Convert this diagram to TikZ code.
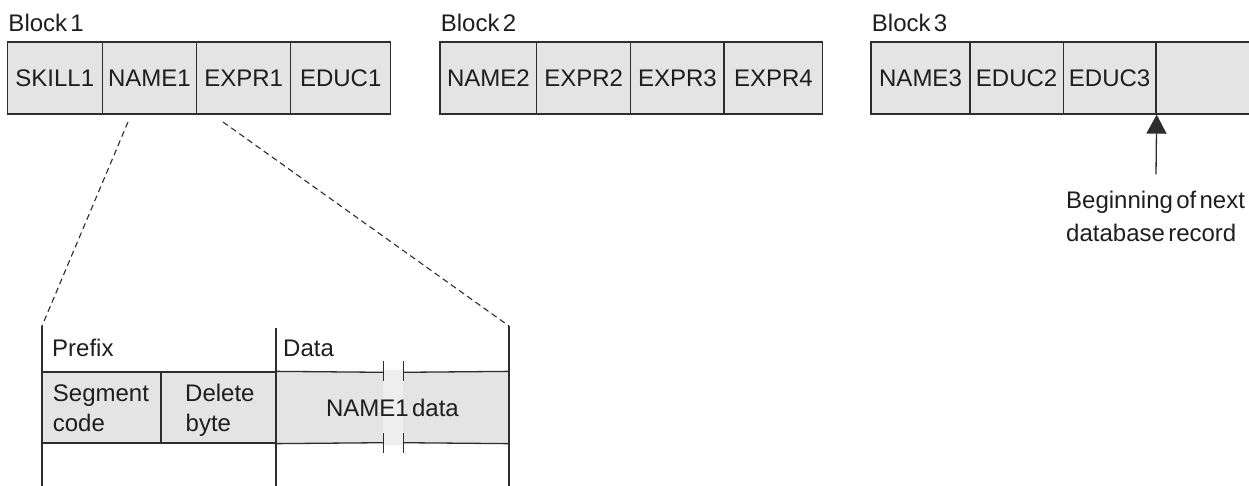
\documentclass[tikz,border=0pt]{standalone}
\usepackage{fontspec}
\setmainfont{Liberation Sans}[WordSpace=0.5]
\usetikzlibrary{arrows.meta}
\definecolor{cellfill}{RGB}{228,228,228}
\definecolor{gapfill}{RGB}{238,238,238}
\definecolor{linec}{RGB}{45,45,45}
\definecolor{textc}{RGB}{30,30,30}
\newcommand{\dfont}{\fontsize{24}{30}\selectfont}
\tikzset{
  cell/.style={draw=linec, fill=cellfill, line width=1.3pt, minimum height=72pt,
    inner sep=0pt, font=\dfont, text=textc},
  band/.style={draw=linec, fill=cellfill, line width=1.3pt, minimum height=71pt,
    inner sep=0pt},
  txt/.style={inner sep=0pt, font=\dfont, text=textc},
  rule/.style={draw=linec, line width=1.3pt},
  zoomline/.style={draw=linec, line width=1.1pt, dash pattern=on 6pt off 4pt},
}
\begin{document}
\begin{tikzpicture}[x=1pt,y=-1pt]
\useasboundingbox (0,0) rectangle (1249,485);

% block labels
\node[txt, anchor=base west] (b1) at (8.3,31.7) {Block 1};
\node[txt, anchor=base west] (b2) at (440.7,31.7) {Block 2};
\node[txt, anchor=base west] (b3) at (871.7,31.7) {Block 3};

% block 1
\node[cell, minimum width=95pt]   (c11) at (54.8,78) {SKILL1};
\node[cell, minimum width=94.4pt] (c12) at (149.5,78) {NAME1};
\node[cell, minimum width=94pt]   (c13) at (243.7,78) {EXPR1};
\node[cell, minimum width=100pt]  (c14) at (340.7,78) {EDUC1};
% block 2
\node[cell, minimum width=96.7pt] (c21) at (488.35,78) {NAME2};
\node[cell, minimum width=94pt]   (c22) at (583.7,78) {EXPR2};
\node[cell, minimum width=93.3pt] (c23) at (677.35,78) {EXPR3};
\node[cell, minimum width=98.7pt] (c24) at (773.35,78) {EXPR4};
% block 3
\node[cell, minimum width=99pt]   (c31) at (920.5,78) {NAME3};
\node[cell, minimum width=93.3pt] (c32) at (1016.65,78) {EDUC2};
\node[cell, minimum width=92.7pt] (c33) at (1109.65,78) {EDUC3};
\node[cell, minimum width=96pt]   (c34) at (1204,78) {};

% arrow to beginning of next record
\coordinate (atail) at (1156,174.3);
\draw[rule, -{Triangle[length=19pt,width=20pt]}] (atail) -- (c33.south east);
\node[txt, anchor=base west] (n1) at (1066,208.3) {Beginning of next};
\node[txt, anchor=base west] (n2) at (1066,241.7) {database record};

% lower detail: vertical rules
\coordinate (lt) at (42,326);   \coordinate (lb) at (42,486);
\coordinate (mt) at (276,328);  \coordinate (mb) at (276,486);
\coordinate (rt) at (509,326);  \coordinate (rb) at (509,486);

% band cells
\node[band, minimum width=119pt] (seg) at (101.5,407.5) {};
\node[band, minimum width=115pt] (del) at (218.5,407.5) {};
\node[band, draw=none, minimum width=233pt] (dat) at (392.5,407.5) {};
\fill[gapfill] (383.3,370) rectangle (403.3,445);
\coordinate (g1t) at (383.3,372.3); \coordinate (g2t) at (403.3,372.3);
\coordinate (g1b) at (383.3,442.7); \coordinate (g2b) at (403.3,442.7);
\draw[rule] (dat.north west) -- (g1t) (g2t) -- (dat.north east);
\draw[rule] (dat.south west) -- (g1b) (g2b) -- (dat.south east);
% break marks
\draw[rule, line width=1.1pt] (383.3,361) -- (383.3,381) (403.3,361) -- (403.3,381);
\draw[rule, line width=1.1pt] (383.3,433) -- (383.3,453) (403.3,433) -- (403.3,453);

\draw[rule] (lt) -- (lb);
\draw[rule] (mt) -- (mb);
\draw[rule] (rt) -- (rb);

% dashed zoom lines from NAME1
\coordinate (z1) at (128,122);
\coordinate (z2) at (223,122);
\draw[zoomline] (z1) -- (lt);
\draw[zoomline] (z2) -- (rt);

% texts in the detail
\node[txt, anchor=base west] (pre) at (52,356.7) {Prefix};
\node[txt, anchor=base west] (dlab) at (283,356.7) {Data};
\node[txt, anchor=base west] (s1) at (52.7,401.7) {Segment};
\node[txt, anchor=base west] (s2) at (52.7,431.7) {code};
\node[txt, anchor=base west] (d1) at (185,401.7) {Delete};
\node[txt, anchor=base west] (d2) at (185.5,431.7) {byte};
\node[txt] (ndata) at (392.5,408.3) {NAME1 data};
\end{tikzpicture}
\end{document}
